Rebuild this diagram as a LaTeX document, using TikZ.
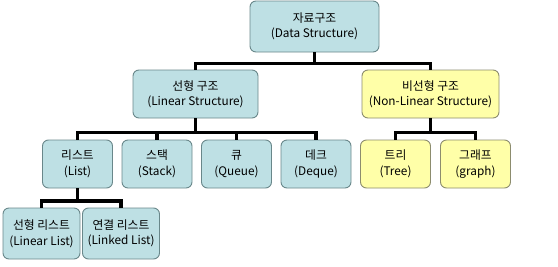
\documentclass[tikz,border=0pt]{standalone}
\usepackage{fontspec}
\setmainfont{Noto Sans CJK KR}
\usepackage{xcolor}
\definecolor{linbox}{RGB}{190,224,228}
\definecolor{linedge}{RGB}{105,135,138}
\definecolor{nonbox}{RGB}{255,255,168}
\definecolor{nonedge}{RGB}{140,140,110}
\usepackage{tikz}
\usetikzlibrary{positioning,calc}

\begin{document}
\begin{tikzpicture}[x=1pt,y=-1pt,
      box/.style={rectangle,rounded corners=6pt,draw=linedge,line width=0.9pt,fill=linbox,
        align=center,inner sep=0pt,font=\fontsize{11.8}{15.5}\selectfont},
      nonlin/.style={box,draw=nonedge,fill=nonbox},
      leaf/.style={box,minimum width=70pt,minimum height=48pt},
      link/.style={line width=3.6pt,black,line join=miter}]
    \useasboundingbox (0,0) rectangle (558,266);
    % root
    \node[box,minimum width=129pt,minimum height=51pt] (DS) at (314.5,26.5) {자료구조\\(Data Structure)};
    % second level
    \node[box,minimum width=125pt,minimum height=48pt] (LS) at (195.5,94) {선형 구조\\(Linear Structure)};
    \node[nonlin,minimum width=137pt,minimum height=48pt] (NLS) at (430.5,94) {비선형 구조\\(Non-Linear Structure)};
    % linear kinds
    \node[leaf] (List) at (77.5,164) {리스트\\(List)};
    \node[leaf] (Stack) at (157,164) {스택\\(Stack)};
    \node[leaf] (Queue) at (236.5,164) {큐\\(Queue)};
    \node[leaf] (Deque) at (316,164) {데크\\(Deque)};
    % non-linear kinds
    \node[leaf,nonlin] (Tree) at (395.5,164) {트리\\(Tree)};
    \node[leaf,nonlin] (Graph) at (475.5,164) {그래프\\(graph)};
    % list kinds
    \node[box,minimum width=77pt,minimum height=51pt] (LinList) at (41.5,233.5) {선형 리스트\\(Linear List)};
    \node[box,minimum width=77pt,minimum height=51pt] (LnkList) at (121,233.5) {연결 리스트\\(Linked List)};
    % connections
    \foreach \n in {LS,NLS} \draw[link] (DS.south) -- ++(0,11) -| (\n.north);
    \foreach \n in {List,Stack,Queue,Deque} \draw[link] (LS.south) -- ++(0,14) -| (\n.north);
    \foreach \n in {Tree,Graph} \draw[link] (NLS.south) -- ++(0,14) -| (\n.north);
    \foreach \n in {LinList,LnkList} \draw[link] (List.south) -- ++(0,12.5) -| (\n.north);
  \end{tikzpicture}
\end{document}
